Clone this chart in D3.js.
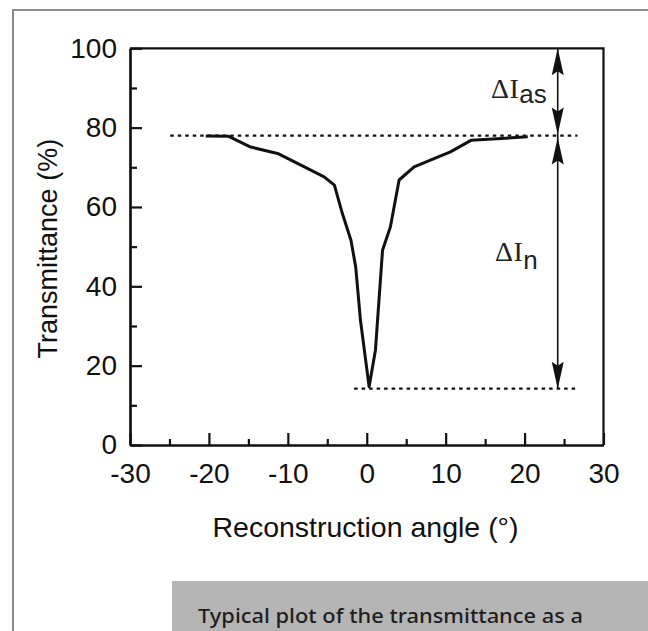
<!DOCTYPE html>
<html>
<head>
<meta charset="utf-8">
<script src="https://cdn.jsdelivr.net/npm/d3@7"></script>
<style>
  html, body { margin: 0; padding: 0; background: #fff; }
  svg { display: block; }
</style>
</head>
<body>
<div id="chart"></div>
<script>
// measured curve: transmittance vs reconstruction angle
const angles =        [-20.4, -17.5, -14.7, -11.3, -7.9, -5.4, -4.1, -3.1, -2.0, -1.4, -0.8, 0.3, 1.1, 2.0, 3.0, 4.1, 6.0, 10.6, 13.2, 20.4];
const transmittance = [ 77.9,  77.8,  75.1,  73.5, 70.1, 67.6, 65.5, 58.4, 51.6, 44.9, 31.5, 14.7, 23.9, 49.1, 55.0, 66.8, 70.1, 73.9, 76.8, 77.7];

const xMajorTicks = [-30, -20, -10, 0, 10, 20, 30];
const xMinorTicks = [-25, -15, -5, 5, 15, 25];
const yMajorTicks = [0, 20, 40, 60, 80, 100];
const yMinorTicks = [10, 30, 50, 70, 90];

// reference levels (dotted) and their x extents
const levelValues = [78, 14.2];
const levelStarts = [-24.9, -1.6];
const levelEnds   = [26.7, 26.7];

// delta-I annotation
const arrowAngle = 24.2;
const arrowLevels = [100, 78, 14.2];
const deltaLabels = ["as", "n"];

const width = 648;
const height = 631;

const FONT = "'Liberation Sans', Arial, Helvetica, sans-serif";
const SERIF = "'Liberation Serif', 'Times New Roman', serif";

const svg = d3.select("#chart")
  .append("svg")
  .attr("width", width)
  .attr("height", height);

// outer page frame (top + left rules)
svg.append("path")
  .attr("d", "M13,631 L13,10 L648,10")
  .attr("fill", "none")
  .attr("stroke", "#8c8c8c")
  .attr("stroke-width", 2);

const x = d3.scaleLinear().domain([-30, 30]).range([130, 603.5]);
const y = d3.scaleLinear().domain([0, 100]).range([445, 48.3]);

const hyphenFmt = (d) => String(d); // plain hyphen, like the original

// ---- axes ----
const gx = svg.append("g").attr("transform", `translate(0,${y(0)})`);
gx.call(d3.axisBottom(x).tickValues(xMajorTicks).tickSizeInner(-12).tickSizeOuter(0).tickPadding(18).tickFormat(hyphenFmt));
const gxm = svg.append("g").attr("transform", `translate(0,${y(0)})`);
gxm.call(d3.axisBottom(x).tickValues(xMinorTicks).tickSizeInner(-6).tickSizeOuter(0).tickFormat(""));

const gy = svg.append("g").attr("transform", `translate(${x(-30)},0)`);
gy.call(d3.axisLeft(y).tickValues(yMajorTicks).tickSizeInner(-12).tickSizeOuter(0).tickPadding(13).tickFormat(hyphenFmt));
const gym = svg.append("g").attr("transform", `translate(${x(-30)},0)`);
gym.call(d3.axisLeft(y).tickValues(yMinorTicks).tickSizeInner(-7).tickSizeOuter(0).tickFormat(""));

svg.selectAll(".domain, .tick line")
  .attr("stroke", "#111")
  .attr("stroke-width", 2.2);
svg.selectAll(".tick text")
  .attr("fill", "#111")
  .style("font-family", FONT)
  .style("font-size", "28px");

// top and right of the plot box
svg.append("path")
  .attr("d", `M${x(-30)},${y(100)} L${x(30)},${y(100)} L${x(30)},${y(0)}`)
  .attr("fill", "none")
  .attr("stroke", "#111")
  .attr("stroke-width", 2.2);

// axis titles
svg.append("text")
  .attr("transform", `translate(57,${(y(0) + y(100)) / 2 + 2}) rotate(-90)`)
  .attr("text-anchor", "middle")
  .style("font-family", FONT)
  .style("font-size", "27px")
  .attr("fill", "#111")
  .text("Transmittance (%)");

svg.append("text")
  .attr("x", 365.5)
  .attr("y", 537)
  .attr("text-anchor", "middle")
  .style("font-family", FONT)
  .style("font-size", "28.5px")
  .attr("fill", "#111")
  .text("Reconstruction angle (°)");

// ---- dotted reference levels ----
svg.append("g")
  .selectAll("line")
  .data(levelValues)
  .join("line")
  .attr("x1", (d, i) => x(levelStarts[i]))
  .attr("x2", (d, i) => x(levelEnds[i]))
  .attr("y1", (d) => y(d))
  .attr("y2", (d) => y(d))
  .attr("stroke", "#111")
  .attr("stroke-width", 2.2)
  .attr("stroke-dasharray", "3.5,4");

// ---- curve ----
const points = angles.map((a, i) => [x(a), y(transmittance[i])]);
svg.append("path")
  .attr("d", d3.line()(points))
  .attr("fill", "none")
  .attr("stroke", "#111")
  .attr("stroke-width", 3)
  .attr("stroke-linejoin", "round");

// ---- delta-I arrows ----
const ax = x(arrowAngle);
svg.append("line")
  .attr("x1", ax).attr("x2", ax)
  .attr("y1", y(arrowLevels[0])).attr("y2", y(arrowLevels[2]))
  .attr("stroke", "#111")
  .attr("stroke-width", 1.6);

const HEAD_LEN = 27;
const HEAD_W = 6;
// each head: tip y, direction (+1 points down, -1 points up)
const heads = [
  { tip: y(arrowLevels[0]), dir: -1 },
  { tip: y(arrowLevels[1]) - 1, dir: 1 },
  { tip: y(arrowLevels[1]) + 2, dir: -1 },
  { tip: y(arrowLevels[2]), dir: 1 }
];
svg.append("g")
  .selectAll("path")
  .data(heads)
  .join("path")
  .attr("d", (d) => {
    const base = d.tip - d.dir * HEAD_LEN;
    return `M${ax},${d.tip} L${ax - HEAD_W},${base} L${ax},${base + d.dir * 4} L${ax + HEAD_W},${base} Z`;
  })
  .attr("fill", "#111");

// labels: ΔI_as between 100 and 78, ΔI_n between 78 and minimum
const labelY = [
  (y(arrowLevels[0]) + y(arrowLevels[1])) / 2 + 6,
  (y(arrowLevels[1]) + y(arrowLevels[2])) / 2 - 1
];
const labelRight = [ax - 11, ax - 20];

deltaLabels.forEach((sub, i) => {
  const t = svg.append("text")
    .attr("x", labelRight[i])
    .attr("y", labelY[i])
    .attr("text-anchor", "end")
    .attr("fill", "#222");
  t.append("tspan")
    .style("font-family", SERIF)
    .style("font-size", "28px")
    .style("letter-spacing", "0.5px")
    .text("ΔI");
  t.append("tspan")
    .attr("dy", sub === "n" ? 8 : 5)
    .style("font-family", FONT)
    .style("font-size", "26px")
    .text(sub);
});

// ---- caption box ----
svg.append("rect")
  .attr("x", 172)
  .attr("y", 581)
  .attr("width", width - 172)
  .attr("height", height - 581)
  .attr("fill", "#b5b5b5");

svg.append("text")
  .attr("x", 198)
  .attr("y", 623)
  .attr("textLength", 385)
  .attr("lengthAdjust", "spacingAndGlyphs")
  .style("font-family", "'Noto Sans', 'DejaVu Sans', sans-serif")
  .style("font-size", "20px")
  .style("font-weight", 500)
  .attr("fill", "#1e1e1e")
  .text("Typical plot of the transmittance as a");
</script>
</body>
</html>
